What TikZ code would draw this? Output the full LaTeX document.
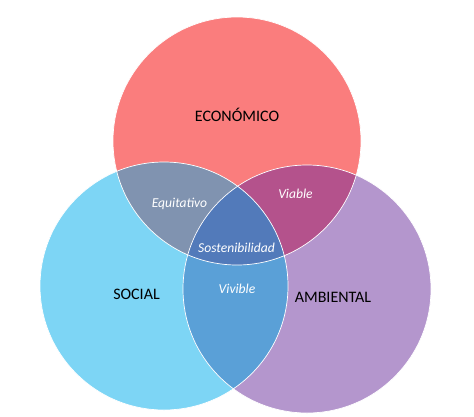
\documentclass[tikz,border=0pt]{standalone}
\usepackage{fontspec}
\setmainfont{Carlito}
\definecolor{ecocol}{RGB}{250,125,125}
\definecolor{soccol}{RGB}{125,213,245}
\definecolor{ambcol}{RGB}{180,150,205}
\definecolor{equcol}{RGB}{128,147,176}
\definecolor{viacol}{RGB}{180,82,140}
\definecolor{vivcol}{RGB}{90,160,215}
\definecolor{sostcol}{RGB}{82,122,186}
\tikzset{
  mainlabel/.style={anchor=base, inner sep=0pt, font=\fontsize{16}{18}\selectfont, text=black},
  sublabel/.style={anchor=base, inner sep=0pt, font=\fontsize{13.6}{16}\selectfont\itshape, text=white},
  rim/.style={draw=white, line width=0.7pt}
}
\begin{document}
\begin{tikzpicture}[x=1pt,y=-1pt]
\useasboundingbox[fill=white] (0,0) rectangle (474,416);
\coordinate (E) at (237,141);
\coordinate (S) at (164,286);
\coordinate (A) at (307,289);
\def\R{124pt}
% base circles
\fill[ecocol] (E) circle[radius=\R];
\fill[soccol] (S) circle[radius=\R];
\fill[ambcol] (A) circle[radius=\R];
% pairwise overlaps
\begin{scope}
  \clip (E) circle[radius=\R];
  \fill[equcol] (S) circle[radius=\R];
\end{scope}
\begin{scope}
  \clip (E) circle[radius=\R];
  \fill[viacol] (A) circle[radius=\R];
\end{scope}
\begin{scope}
  \clip (S) circle[radius=\R];
  \fill[vivcol] (A) circle[radius=\R];
\end{scope}
% triple overlap
\begin{scope}
  \clip (E) circle[radius=\R];
  \clip (S) circle[radius=\R];
  \fill[sostcol] (A) circle[radius=\R];
\end{scope}
% white rims
\draw[rim] (A) circle[radius=\R];
\draw[rim] (S) circle[radius=\R];
\draw[rim] (E) circle[radius=\R];
% labels
\node[mainlabel] (eco) at (237,121) {ECONÓMICO};
\node[mainlabel] (soc) at (136.5,299) {SOCIAL};
\node[mainlabel] (amb) at (333,302) {AMBIENTAL};
\node[sublabel] (equ) at (179.5,207) {Equitativo};
\node[sublabel] (via) at (295.5,198.5) {Viable};
\node[sublabel] (sost) at (236.5,252) {Sostenibilidad};
\node[sublabel] (viv) at (237,293) {Vivible};
\end{tikzpicture}
\end{document}
